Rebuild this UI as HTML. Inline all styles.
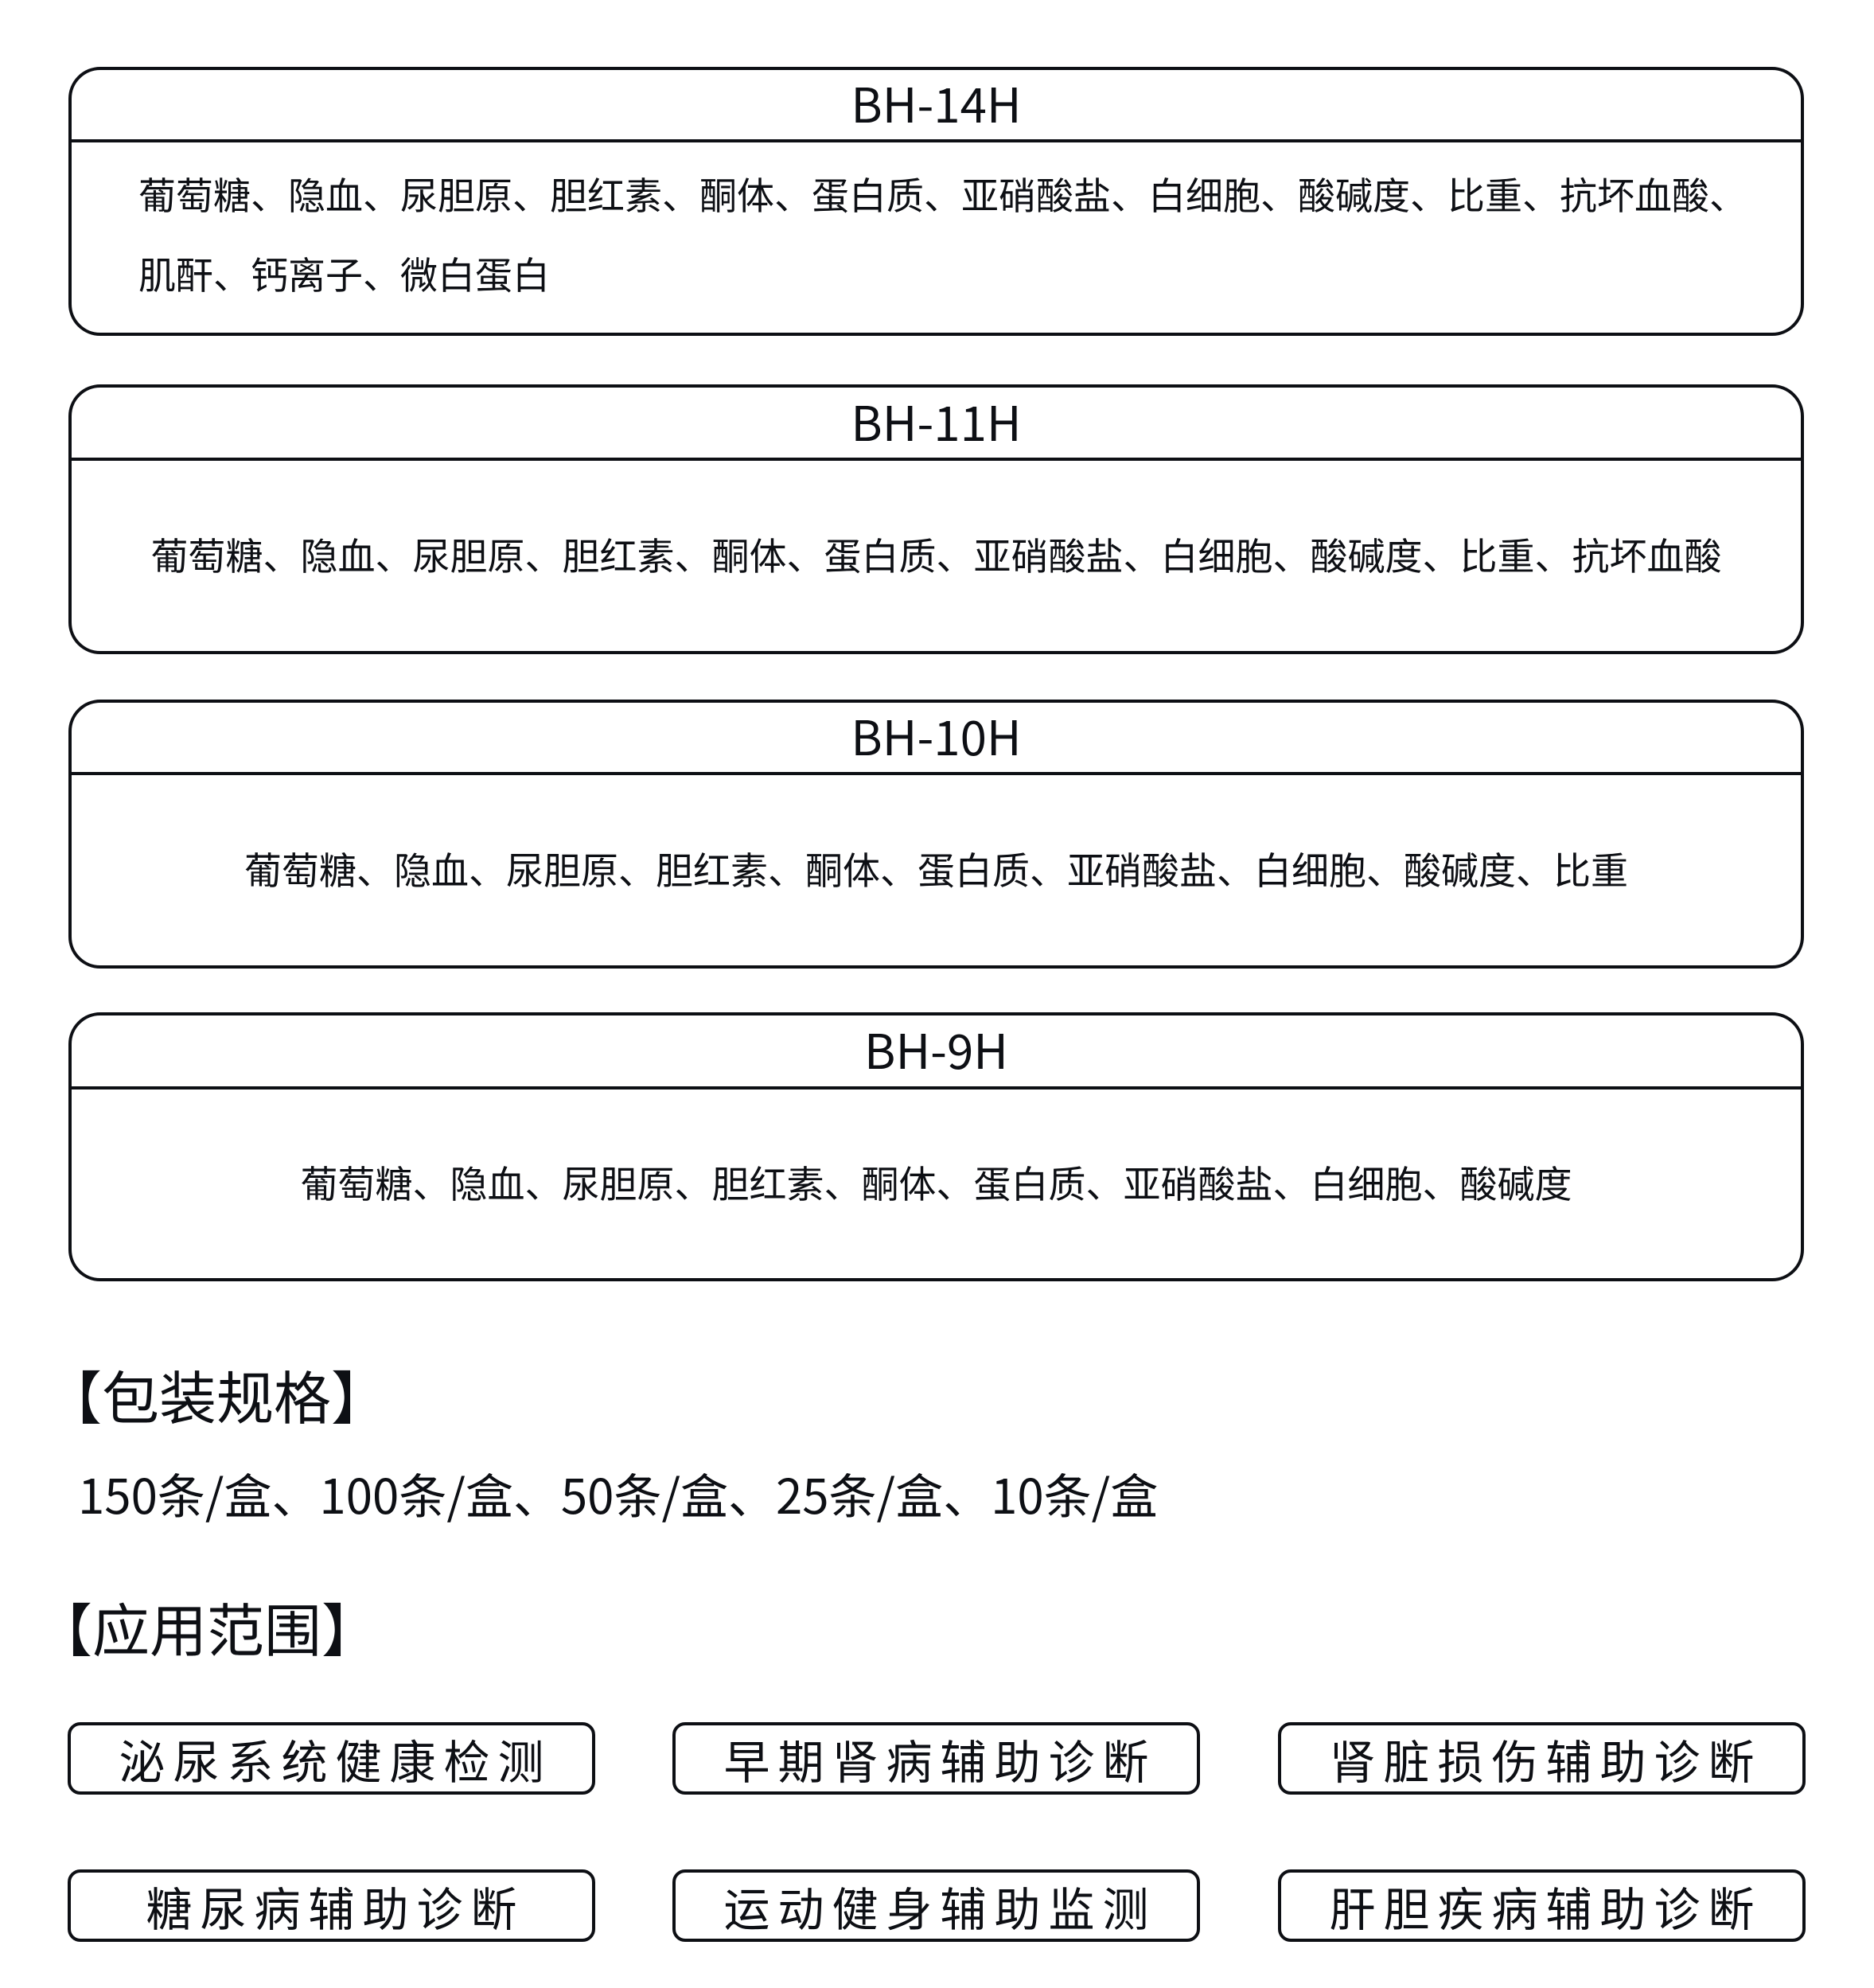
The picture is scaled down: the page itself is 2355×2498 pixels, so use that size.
<!DOCTYPE html>
<html><head><meta charset="utf-8"><style>
*{margin:0;padding:0;box-sizing:border-box}
body{width:2355px;height:2498px;background:#fff;position:relative;overflow:hidden;font-family:"Noto Sans CJK SC","Liberation Sans",sans-serif;color:#0d0f14}
.box{position:absolute;left:86px;width:2181px;border:4.5px solid #0d0f14;border-radius:40px}
.hd{position:absolute;left:0;right:0;top:0;border-bottom:4.5px solid #0d0f14;text-align:center;font-size:60px}
.bd{position:absolute;left:0;right:0;bottom:0;display:flex;align-items:center;justify-content:center;text-align:center;font-size:47px}
.t{position:absolute;white-space:nowrap}
.btn{position:absolute;width:663px;height:91px;border:4.5px solid #0d0f14;border-radius:16px;display:flex;align-items:center;justify-content:center;font-size:58px;letter-spacing:10px;padding-left:10px;line-height:1}
</style></head><body>

<div class="box" style="top:84px;height:338px">
 <div class="hd" style="height:91px;line-height:82px">BH-14H</div>
 <div class="bd" style="top:91px;display:block;text-align:left;padding-left:84px;line-height:100px;padding-top:14px">葡萄糖、隐血、尿胆原、胆红素、酮体、蛋白质、亚硝酸盐、白细胞、酸碱度、比重、抗坏血酸、<br>肌酐、钙离子、微白蛋白</div>
</div>

<div class="box" style="top:483px;height:339px">
 <div class="hd" style="height:92px;line-height:83px">BH-11H</div>
 <div class="bd" style="top:92px;padding-bottom:6px">葡萄糖、隐血、尿胆原、胆红素、酮体、蛋白质、亚硝酸盐、白细胞、酸碱度、比重、抗坏血酸</div>
</div>

<div class="box" style="top:879px;height:338px">
 <div class="hd" style="height:91px;line-height:82px">BH-10H</div>
 <div class="bd" style="top:91px;padding-bottom:6px">葡萄糖、隐血、尿胆原、胆红素、酮体、蛋白质、亚硝酸盐、白细胞、酸碱度、比重</div>
</div>

<div class="box" style="top:1272px;height:338px">
 <div class="hd" style="height:93px;line-height:84px">BH-9H</div>
 <div class="bd" style="top:93px;padding-bottom:6px">葡萄糖、隐血、尿胆原、胆红素、酮体、蛋白质、亚硝酸盐、白细胞、酸碱度</div>
</div>

<div class="t" style="left:56px;top:1702px;font-size:72px;line-height:100px">【包装规格】</div>
<div class="t" style="left:98px;top:1832px;font-size:60px;line-height:90px">150条/盒、100条/盒、50条/盒、25条/盒、10条/盒</div>
<div class="t" style="left:44px;top:1994px;font-size:72px;line-height:100px">【应用范围】</div>

<div class="btn" style="left:85px;top:2164px">泌尿系统健康检测</div>
<div class="btn" style="left:845px;top:2164px">早期肾病辅助诊断</div>
<div class="btn" style="left:1606px;top:2164px">肾脏损伤辅助诊断</div>
<div class="btn" style="left:85px;top:2349px">糖尿病辅助诊断</div>
<div class="btn" style="left:845px;top:2349px">运动健身辅助监测</div>
<div class="btn" style="left:1606px;top:2349px">肝胆疾病辅助诊断</div>

</body></html>
